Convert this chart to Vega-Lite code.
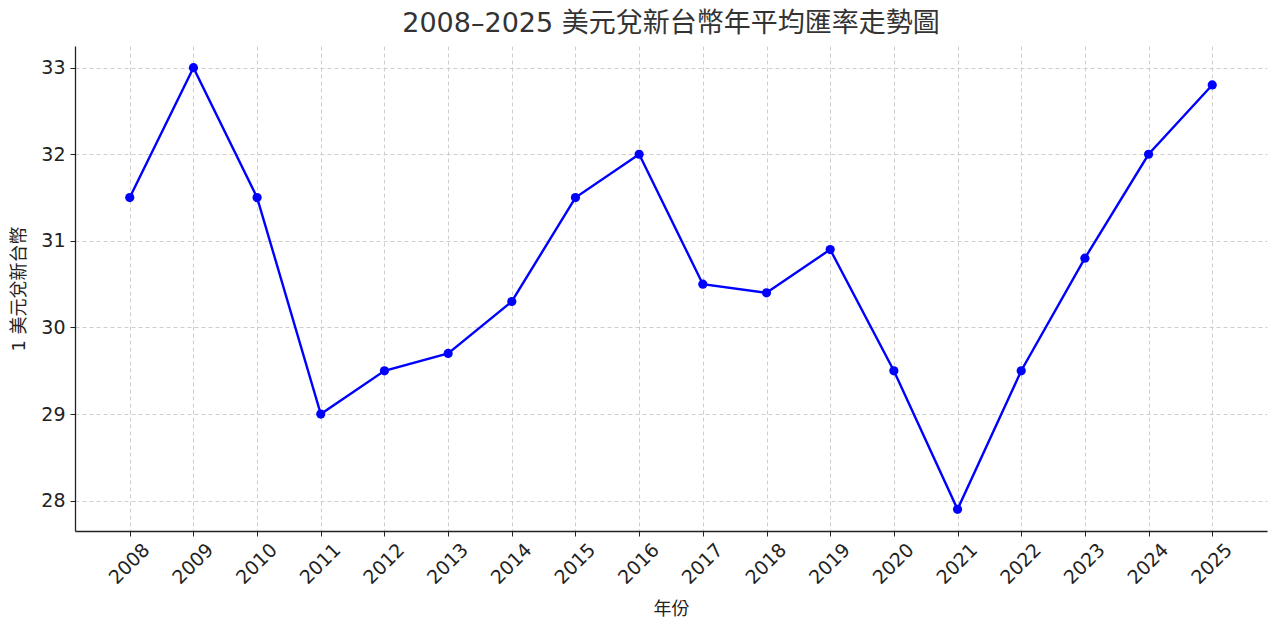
{
  "$schema": "https://vega.github.io/schema/vega-lite/v6.json",
  "width": 1192,
  "height": 485,
  "autosize": "none",
  "padding": {"left": 75, "top": 46, "right": 13, "bottom": 101},
  "background": "white",
  "title": {
    "text": "2008–2025 美元兌新台幣年平均匯率走勢圖",
    "font": "DejaVu Sans, Noto Sans CJK TC",
    "fontSize": 27,
    "fontWeight": "normal",
    "color": "#333333",
    "offset": 8
  },
  "config": {
    "view": {"stroke": null},
    "font": "DejaVu Sans",
    "axis": {
      "labelFont": "DejaVu Sans",
      "labelFontSize": 19,
      "labelColor": "#222222",
      "titleFont": "DejaVu Sans, Noto Sans CJK TC",
      "titleFontSize": 18,
      "titleFontWeight": "normal",
      "titleColor": "#222222",
      "domainColor": "#222222",
      "domainWidth": 1.3,
      "tickColor": "#222222",
      "tickSize": 5,
      "grid": true,
      "gridColor": "#c8c8c8",
      "gridDash": [4, 3],
      "gridWidth": 0.9
    }
  },
  "data": {
    "values": [
      {"year": "2008", "rate": 31.5},
      {"year": "2009", "rate": 33.0},
      {"year": "2010", "rate": 31.5},
      {"year": "2011", "rate": 29.0},
      {"year": "2012", "rate": 29.5},
      {"year": "2013", "rate": 29.7},
      {"year": "2014", "rate": 30.3},
      {"year": "2015", "rate": 31.5},
      {"year": "2016", "rate": 32.0},
      {"year": "2017", "rate": 30.5},
      {"year": "2018", "rate": 30.4},
      {"year": "2019", "rate": 30.9},
      {"year": "2020", "rate": 29.5},
      {"year": "2021", "rate": 27.9},
      {"year": "2022", "rate": 29.5},
      {"year": "2023", "rate": 30.8},
      {"year": "2024", "rate": 32.0},
      {"year": "2025", "rate": 32.8}
    ]
  },
  "encoding": {
    "x": {
      "field": "year",
      "type": "ordinal",
      "scale": {"type": "point", "padding": 0.86},
      "axis": {
        "title": "年份",
        "labelAngle": -45,
        "labelPadding": 4,
        "labelOffset": 10,
        "titlePadding": 13
      }
    },
    "y": {
      "field": "rate",
      "type": "quantitative",
      "scale": {"domain": [27.65, 33.25], "nice": false, "zero": false},
      "axis": {
        "title": "1 美元兌新台幣",
        "values": [28, 29, 30, 31, 32, 33],
        "labelPadding": 5,
        "titlePadding": 12
      }
    }
  },
  "layer": [
    {
      "mark": {"type": "line", "color": "#0000ff", "strokeWidth": 2.4},
      "encoding": {}
    },
    {
      "mark": {"type": "point", "filled": true, "color": "#0000ff", "size": 85, "opacity": 1},
      "encoding": {}
    }
  ]
}
